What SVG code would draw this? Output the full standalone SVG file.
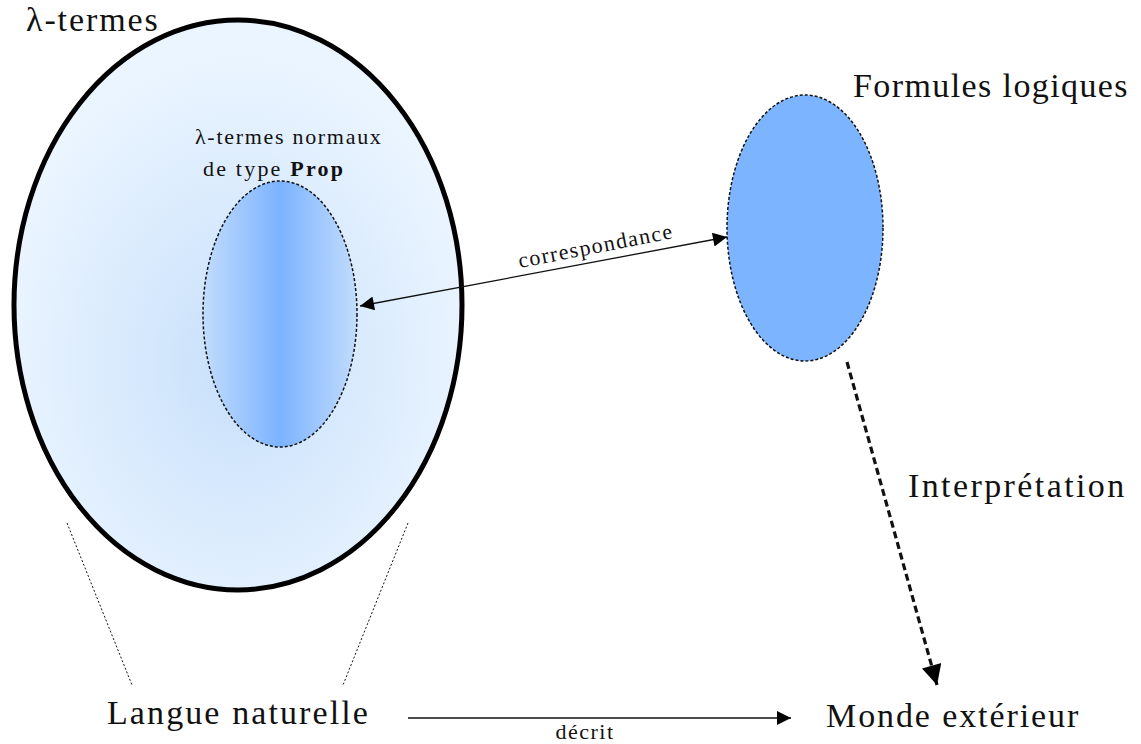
<svg xmlns="http://www.w3.org/2000/svg" width="1141" height="744" viewBox="0 0 1141 744">
<defs>
<radialGradient id="gOuter" cx="0.5" cy="0.6" r="0.55">
<stop offset="0" stop-color="#c8e0fb"/>
<stop offset="1" stop-color="#ebf5ff"/>
</radialGradient>
<linearGradient id="gInner" x1="0" y1="0" x2="1" y2="0">
<stop offset="0" stop-color="#c2dcfc"/>
<stop offset="0.5" stop-color="#7cb3ff"/>
<stop offset="1" stop-color="#c2dcfc"/>
</linearGradient>
<marker id="ah" viewBox="0 0 10 10" refX="10" refY="5" markerWidth="24" markerHeight="14" markerUnits="userSpaceOnUse" orient="auto-start-reverse">
<path d="M0,0 L10,5 L0,10 z" fill="#000"/>
</marker>
<marker id="ahBig" viewBox="0 0 10 10" refX="10" refY="5" markerWidth="30" markerHeight="20" markerUnits="userSpaceOnUse" orient="auto">
<path d="M0,0 L10,5 L0,10 z" fill="#000"/>
</marker>
</defs>
<g id="lambda-termes">
<ellipse cx="238" cy="305" rx="224" ry="285" fill="url(#gOuter)" stroke="#000" stroke-width="5"/>
<text x="26" y="31" font-family="Liberation Serif" font-size="34" letter-spacing="1.9" fill="#111">λ-termes</text>
</g>
<g id="normaux">
<ellipse cx="280" cy="314" rx="77" ry="133" fill="url(#gInner)" stroke="#111" stroke-width="1.5" stroke-dasharray="3,2"/>
<text x="195" y="144" font-family="Liberation Serif" font-size="22" letter-spacing="1.7" fill="#111">λ-termes normaux</text>
<text x="203" y="176" font-family="Liberation Serif" font-size="22" letter-spacing="2.2" fill="#111">de type <tspan font-weight="bold">Prop</tspan></text>
</g>
<g id="formules">
<ellipse cx="805" cy="228" rx="78" ry="133" fill="#7db4ff" stroke="#111" stroke-width="1.5" stroke-dasharray="3,2"/>
<text x="853" y="97" font-family="Liberation Serif" font-size="34" letter-spacing="1.4" fill="#111">Formules logiques</text>
</g>
<g id="langue">
<text x="107" y="724" font-family="Liberation Serif" font-size="34" letter-spacing="2.1" fill="#111">Langue naturelle</text>
</g>
<g id="monde">
<text x="826" y="727" font-family="Liberation Serif" font-size="34" letter-spacing="1.9" fill="#111">Monde extérieur</text>
</g>
<g id="connectors" fill="none" stroke="#111">
<line x1="360" y1="306" x2="727" y2="237" stroke-width="1.3" marker-start="url(#ah)" marker-end="url(#ah)"/>
<line x1="847" y1="362" x2="937" y2="685" stroke-width="3.2" stroke-dasharray="7,4" marker-end="url(#ahBig)"/>
<line x1="408" y1="718" x2="791" y2="718" stroke-width="1.3" marker-end="url(#ah)"/>
<line x1="67" y1="523" x2="132" y2="685" stroke-width="1" stroke-dasharray="2,2"/>
<line x1="408" y1="523" x2="343" y2="685" stroke-width="1" stroke-dasharray="2,2"/>
<text font-family="Liberation Serif" font-size="22" letter-spacing="1.4" fill="#111" stroke="none" transform="translate(597,253) rotate(-11)" text-anchor="middle">correspondance</text>
<text x="908" y="497" font-family="Liberation Serif" font-size="34" letter-spacing="2.4" fill="#111" stroke="none">Interprétation</text>
<text x="585" y="739" font-family="Liberation Serif" font-size="22" letter-spacing="1.5" fill="#111" stroke="none" text-anchor="middle">décrit</text>
</g>
</svg>
